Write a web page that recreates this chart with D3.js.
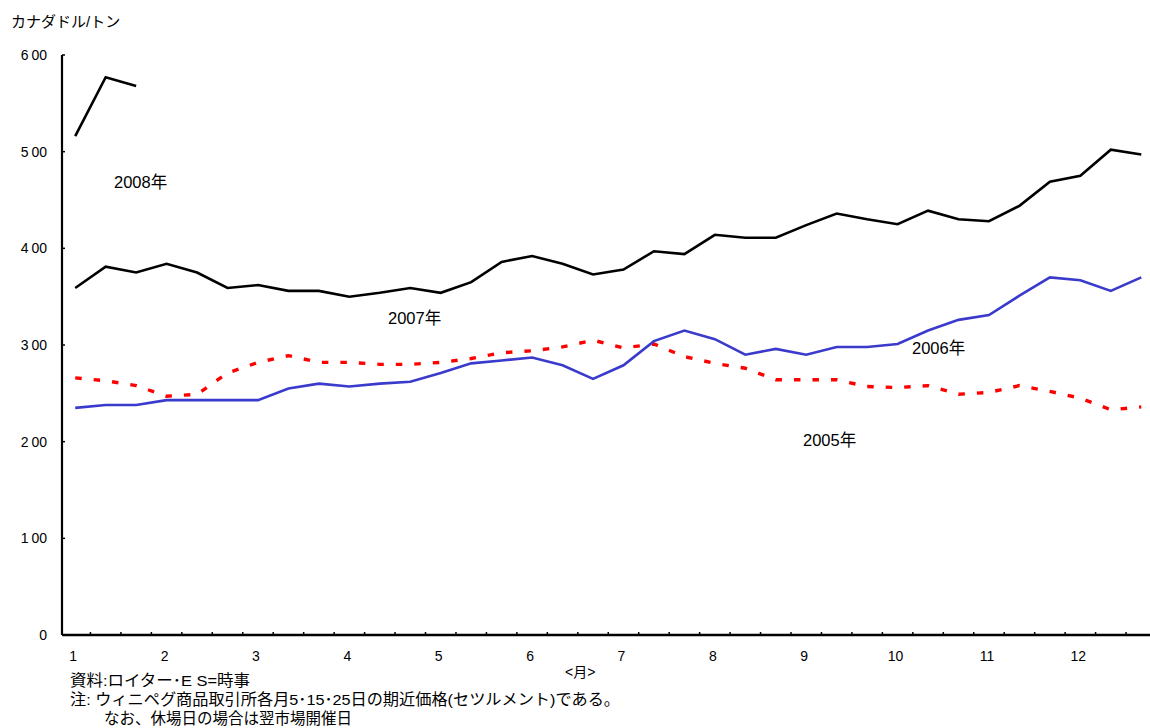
<!DOCTYPE html>
<html lang="ja">
<head>
<meta charset="utf-8">
<script src="https://cdn.jsdelivr.net/npm/d3@7/dist/d3.min.js"></script>
<style>
  html, body { margin: 0; padding: 0; background: #fff; }
  svg text { font-family: "Liberation Sans", Arial, "Noto Sans CJK JP", sans-serif; fill: #000; }
</style>
</head>
<body>
<svg id="chart" width="1150" height="728"></svg>
<script>
// Months on the axis and the three settlement days sampled in each month
const months = ["1","2","3","4","5","6","7","8","9","10","11","12"];
const days = [5, 15, 25];
const categories = months.flatMap(m => days.map(d => m + "/" + d));

// Canola futures, nearby settlement (CAD per tonne)
const price2005 = [266,263,258,247,249,271,282,289,282,282,280,280,282,286,292,294,298,305,
                   297,301,288,281,276,264,264,264,257,256,258,249,251,258,252,245,233,236];
const price2006 = [235,238,238,243,243,243,243,255,260,257,260,262,271,281,284,287,279,265,
                   279,304,315,306,290,296,290,298,298,301,315,326,331,351,370,367,356,370];
const price2007 = [359,381,375,384,375,359,362,356,356,350,354,359,354,365,386,392,384,373,
                   378,397,394,414,411,411,424,436,430,425,439,430,428,444,469,475,502,497];
const price2008 = [516,577,568];

const yTicks = [0,100,200,300,400,500,600];

const svg = d3.select("#chart");

const x = d3.scaleBand().domain(categories).range([60, 1156.5]).padding(0);
const y = d3.scaleLinear().domain([0, 600]).range([635, 55]);
const cx = c => x(c) + x.bandwidth() / 2;

// Series lines
const line = d3.line()
  .x((d, i) => cx(categories[i]))
  .y(d => y(d));

const series = [
  { name: "2005", data: price2005, color: "#ff0000", width: 3.4, dash: "6.5,12" },
  { name: "2006", data: price2006, color: "#3a3acc", width: 2.6, dash: null },
  { name: "2007", data: price2007, color: "#000000", width: 2.6, dash: null },
  { name: "2008", data: price2008, color: "#000000", width: 2.6, dash: null }
];

svg.append("g").selectAll("path")
  .data(series)
  .join("path")
  .attr("fill", "none")
  .attr("stroke", d => d.color)
  .attr("stroke-width", d => d.width)
  .attr("stroke-dasharray", d => d.dash)
  .attr("stroke-linejoin", "miter")
  .attr("d", d => line(d.data));

// Y axis
const yAxisX = 62;
const yAxis = svg.append("g");
yAxis.append("line")
  .attr("x1", yAxisX).attr("x2", yAxisX)
  .attr("y1", y(600)).attr("y2", y(0))
  .attr("stroke", "#000").attr("stroke-width", 2.2);
yAxis.selectAll("line.tick")
  .data(yTicks)
  .join("line")
  .attr("class", "tick")
  .attr("x1", yAxisX).attr("x2", yAxisX + 3)
  .attr("y1", d => y(d)).attr("y2", d => y(d))
  .attr("stroke", "#000").attr("stroke-width", 1.5);
const yLab = yAxis.selectAll("text")
  .data(yTicks)
  .join("text")
  .attr("x", 47)
  .attr("y", d => y(d) + 5)
  .attr("text-anchor", "end")
  .attr("font-size", 14);
yLab.each(function(d) {
  const s = String(d);
  const t = d3.select(this);
  if (s.length > 1) {
    t.append("tspan").text(s[0]);
    t.append("tspan").attr("dx", 3).text(s.slice(1));
  } else {
    t.text(s);
  }
});

// X axis: baseline, category-boundary ticks, month labels
const xAxisG = svg.append("g").attr("transform", `translate(0,${y(0)})`);
xAxisG.call(d3.axisBottom(x)
  .tickValues(months.map(m => m + "/5"))
  .tickSize(0)
  .tickPadding(16)
  .tickFormat(c => c.split("/")[0]));
xAxisG.select(".domain").attr("stroke", "#000").attr("stroke-width", 2.6)
  .attr("d", `M${yAxisX},0H1156`);
xAxisG.selectAll(".tick text")
  .attr("font-size", 14)
  .attr("font-family", "Liberation Sans, Arial, sans-serif")
  .attr("dx", -2);
xAxisG.selectAll("line.bnd")
  .data(categories.slice(1))
  .join("line")
  .attr("class", "bnd")
  .attr("x1", c => x(c)).attr("x2", c => x(c))
  .attr("y1", 0).attr("y2", -3)
  .attr("stroke", "#000").attr("stroke-width", 1.5);

// Series labels
const labels = [
  { text: "2008年", x: 114, y: 188 },
  { text: "2007年", x: 388, y: 324 },
  { text: "2006年", x: 912, y: 354 },
  { text: "2005年", x: 803, y: 446 }
];
svg.append("g").selectAll("text")
  .data(labels)
  .join("text")
  .attr("x", d => d.x)
  .attr("y", d => d.y)
  .attr("font-size", 16.5)
  .text(d => d.text);

// Unit, axis caption and notes
svg.append("text").attr("x", 11).attr("y", 27).attr("font-size", 15).text("カナダドル/トン");
svg.append("text").attr("x", 565).attr("y", 677).attr("font-size", 14).text("<月>");
svg.append("text").attr("x", 70).attr("y", 686).attr("font-size", 15.5)
  .attr("textLength", 180).attr("lengthAdjust", "spacingAndGlyphs")
  .text("資料:ロイター･E S=時事");
svg.append("text").attr("x", 70).attr("y", 705).attr("font-size", 15.5)
  .attr("textLength", 550).attr("lengthAdjust", "spacingAndGlyphs")
  .text("注: ウィニペグ商品取引所各月5･15･25日の期近価格(セツルメント)である。");
svg.append("text").attr("x", 104).attr("y", 724).attr("font-size", 15.5)
  .attr("textLength", 248).attr("lengthAdjust", "spacingAndGlyphs")
  .text("なお、休場日の場合は翌市場開催日");
</script>
</body>
</html>
